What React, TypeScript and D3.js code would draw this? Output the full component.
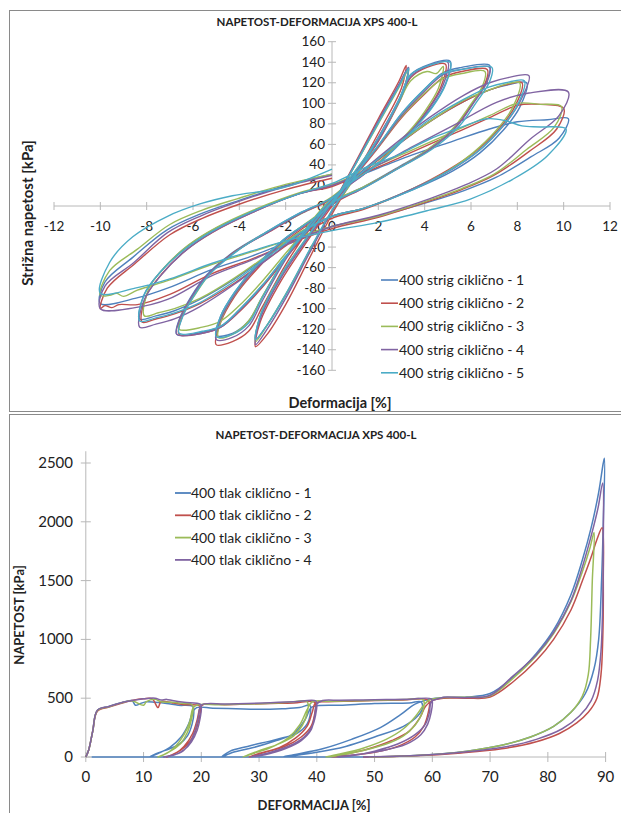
import React from "react";
import * as d3 from "d3";

type Pt = [number, number];

// ---- top chart: shear, cyclic (strain %, kPa) ----
const strigNames = [
  "400 strig ciklično - 1",
  "400 strig ciklično - 2",
  "400 strig ciklično - 3",
  "400 strig ciklično - 4",
  "400 strig ciklično - 5",
];
const strigColors = ["#4F81BD", "#C0504D", "#9BBB59", "#8064A2", "#4BACC6"];

const strig1: Pt[] = [
  [0, 0], [1, 40], [2, 82], [2.9, 118], [3.3, 135],
  [3.1, 113], [2.2, 74], [1, 29], [0, -5], [-1, -45], [-2, -87], [-2.8, -116], [-3.3, -130],
  [-3.1, -108], [-2.2, -68], [-1, -29], [0, 3], [1, 33], [2, 65], [2.9, 104], [3.4, 128], [4.2, 138], [5.1, 141],
  [4.9, 119], [4.3, 96], [3.5, 75], [2.1, 44], [0.6, 19], [0, 7], [-1, -19], [-2, -50], [-3, -88], [-3.6, -112], [-4.3, -124], [-5, -126],
  [-4.8, -107], [-4.2, -84], [-3.5, -64], [-2.1, -33], [-0.6, -9], [0, 3], [1, 31], [2, 59], [3, 90], [4, 114], [4.8, 130], [5.6, 135], [6.8, 137],
  [6.7, 123], [6.1, 101], [5.4, 79], [4.2, 56], [2.8, 37], [1.4, 19], [0, 3], [-1, -22], [-2, -49], [-3, -77], [-4, -101], [-4.8, -117], [-5.6, -123], [-6.7, -125],
  [-6.6, -111], [-6.1, -89], [-5.4, -67], [-4.2, -44], [-2.8, -25], [-1.4, -7], [0, 8], [1.35, 34], [2.8, 59], [4.2, 82], [5.7, 102], [6.8, 113], [7.6, 118], [8.4, 120],
  [8.1, 96], [7.4, 74], [6.4, 52], [5.2, 34], [3.5, 16], [1.4, -2], [0, -10], [-1.35, -26], [-2.8, -49], [-4.2, -71], [-5.7, -91], [-6.8, -102], [-7.6, -107], [-8.3, -110],
  [-8.1, -86], [-7.4, -64], [-6.4, -42], [-5.2, -24], [-3.5, -6], [-1.4, 12], [0, 20], [2, 37], [3.5, 50], [5.2, 63], [6.8, 75], [8, 82], [9.3, 84], [10.2, 85],
  [9.8, 66], [8.6, 48], [7.1, 28], [5.7, 15], [4.2, 4], [2, -10], [0, -20], [-2, -36], [-3.5, -49], [-5.2, -62], [-7.1, -80], [-8.5, -90], [-10, -95],
  [-9.8, -74], [-8.6, -50], [-7.1, -23], [-5.7, -8], [-4.2, 4], [-2, 20], [0, 31],
];

const strig2: Pt[] = [
  [0, 0], [1, 42], [2, 85], [2.9, 122], [3.2, 137],
  [3.0, 115], [2.1, 75], [1, 30], [0, -8], [-1, -52], [-2, -96], [-2.8, -125], [-3.3, -137],
  [-3.1, -113], [-2.2, -73], [-1, -32], [0, 0], [1, 31], [2, 63], [2.9, 101], [3.4, 125], [4.1, 135], [4.9, 138],
  [4.7, 116], [4.1, 93], [3.4, 73], [2.0, 42], [0.6, 18], [0, 5], [-1, -23], [-2, -57], [-3, -98], [-3.6, -122], [-4.3, -132], [-5, -135],
  [-4.8, -113], [-4.2, -88], [-3.5, -68], [-2.1, -36], [-0.6, -11], [0, 1], [1, 29], [2, 57], [3, 86], [4, 109], [4.8, 125], [5.6, 131], [6.7, 133],
  [6.6, 119], [6, 98], [5.3, 76], [4.1, 53], [2.7, 35], [1.3, 17], [0, 1], [-1, -24], [-2, -51], [-3, -79], [-4, -103], [-4.8, -118], [-5.6, -124], [-6.6, -125],
  [-6.5, -110], [-6, -88], [-5.3, -66], [-4.1, -43], [-2.7, -25], [-1.3, -7], [0, 7], [1.35, 33], [2.8, 59], [4.2, 82], [5.7, 102], [6.8, 113], [7.5, 118], [8.2, 120],
  [7.9, 97], [7.2, 75], [6.2, 53], [5, 35], [3.4, 16], [1.4, -3], [0, -12], [-1.35, -29], [-2.8, -52], [-4.2, -75], [-5.7, -95], [-6.8, -105], [-7.6, -110], [-8.2, -113],
  [-8, -87], [-7.3, -65], [-6.3, -43], [-5.1, -25], [-3.4, -6], [-1.4, 12], [0, 19], [2, 38], [3.5, 53], [5.2, 70], [6.8, 86], [8, 98], [9, 99], [10, 95],
  [9.7, 75], [8.5, 53], [7, 30], [5.6, 16], [4.1, 4], [2, -11], [0, -22], [-2, -38], [-3.5, -52], [-5.2, -66], [-7, -86], [-8.4, -96], [-9.2, -96], [-9.5, -99], [-9.8, -97], [-10, -100],
  [-9.7, -80], [-8.5, -56], [-7, -28], [-5.6, -12], [-4.1, 1], [-2, 16], [0, 27],
];

const strig3: Pt[] = [
  [0, 0], [1, 40], [2, 80], [2.9, 116], [3.3, 133],
  [3.1, 112], [2.2, 73], [1, 28], [0, -5], [-1, -45], [-2, -86], [-2.8, -116], [-3.3, -132],
  [-3.1, -107], [-2.2, -67], [-1, -28], [0, 4], [1, 34], [2, 65], [2.9, 101], [3.4, 122], [4.1, 131], [4.5, 129], [4.8, 136],
  [4.6, 115], [4.0, 92], [3.3, 72], [2.0, 42], [0.6, 19], [0, 8], [-1, -18], [-2, -50], [-3, -88], [-3.6, -112], [-4.3, -125], [-4.9, -128],
  [-4.7, -106], [-4.1, -83], [-3.4, -63], [-2, -32], [-0.6, -8], [0, 4], [1, 31], [2, 58], [3, 87], [4, 110], [4.8, 124], [5.6, 129], [6.6, 131],
  [6.5, 117], [5.9, 96], [5.2, 75], [4, 53], [2.7, 35], [1.3, 18], [0, 4], [-1, -20], [-2, -46], [-3, -73], [-4, -97], [-4.8, -112], [-5.6, -118], [-6.6, -120],
  [-6.5, -107], [-5.9, -86], [-5.2, -64], [-4, -42], [-2.7, -24], [-1.3, -7], [0, 9], [1.35, 35], [2.8, 60], [4.2, 82], [5.7, 103], [6.8, 113], [7.4, 118], [8.1, 120],
  [7.8, 96], [7.1, 74], [6.1, 52], [5, 34], [3.4, 16], [1.4, -2], [0, -10], [-1.35, -25], [-2.8, -48], [-4.2, -70], [-5.7, -90], [-6.8, -100], [-7.5, -104], [-8.1, -107],
  [-7.9, -80], [-7.2, -59], [-6.2, -38], [-5, -21], [-3.4, -4], [-1.4, 13], [0, 21], [2, 40], [3.5, 55], [5.2, 72], [6.8, 88], [8, 100], [9, 99], [9.9, 97],
  [9.6, 77], [8.4, 55], [7, 31], [5.6, 17], [4.1, 5], [2, -10], [0, -20], [-2, -34], [-3.5, -45], [-5.2, -57], [-7, -72], [-8.4, -82], [-9, -88], [-9.3, -85], [-9.6, -87], [-10, -87],
  [-9.6, -63], [-8.4, -42], [-7, -18], [-5.6, -4], [-4.1, 7], [-2, 21], [0, 31],
];

const strig4: Pt[] = [
  [0, 0], [1, 41], [2, 83], [2.9, 119], [3.3, 135],
  [3.1, 114], [2.2, 75], [1, 30], [0, -5], [-1, -47], [-2, -90], [-2.8, -120], [-3.3, -135],
  [-3.1, -110], [-2.2, -70], [-1, -30], [0, 2], [1, 32], [2, 64], [2.9, 102], [3.4, 126], [4.2, 137], [5, 140],
  [4.8, 118], [4.2, 95], [3.5, 75], [2.1, 43], [0.6, 18], [0, 6], [-1, -20], [-2, -52], [-3, -92], [-3.6, -117], [-4.3, -128], [-5, -130],
  [-4.8, -110], [-4.2, -86], [-3.5, -66], [-2.1, -34], [-0.6, -10], [0, 2], [1, 30], [2, 58], [3, 88], [4, 112], [4.8, 128], [5.6, 133], [6.8, 135],
  [6.7, 121], [6.1, 100], [5.4, 78], [4.2, 55], [2.8, 36], [1.4, 18], [0, 2], [-1, -23], [-2, -50], [-3, -78], [-4, -102], [-4.8, -118], [-5.6, -124], [-6.7, -125],
  [-6.6, -112], [-6.1, -90], [-5.4, -68], [-4.2, -45], [-2.8, -26], [-1.4, -8], [0, 8], [1.35, 35], [2.8, 62], [4.2, 86], [5.7, 108], [6.8, 120], [7.6, 125], [8.5, 127],
  [8.1, 101], [7.4, 78], [6.4, 55], [5.2, 36], [3.5, 17], [1.4, -2], [0, -10], [-1.35, -27], [-2.8, -52], [-4.2, -76], [-5.7, -98], [-6.8, -110], [-7.6, -115], [-8.3, -118],
  [-8.1, -91], [-7.4, -68], [-6.4, -45], [-5.2, -26], [-3.5, -7], [-1.4, 12], [0, 20], [2, 40], [3.5, 58], [5.2, 78], [7.1, 101], [8.5, 110], [10.2, 111],
  [9.8, 88], [8.55, 65], [7.1, 36], [5.7, 20], [4.2, 7], [2, -9], [0, -20], [-2, -38], [-3.5, -53], [-5.2, -68], [-7.1, -91], [-8.5, -99], [-10, -100],
  [-9.8, -78], [-8.55, -55], [-7.1, -26], [-5.7, -10], [-4.2, 3], [-2, 19], [0, 30],
];

const strig5: Pt[] = [
  [0, 0], [1, 40], [2, 81], [2.9, 117], [3.3, 134],
  [3.1, 113], [2.2, 74], [1, 29], [0, -4], [-1, -44], [-2, -86], [-2.8, -116], [-3.3, -130],
  [-3.1, -107], [-2.2, -67], [-1, -28], [0, 4], [1, 34], [2, 66], [2.9, 104], [3.4, 128], [4.2, 137], [5.1, 140],
  [4.9, 118], [4.3, 95], [3.5, 74], [2.1, 43], [0.6, 19], [0, 7], [-1, -19], [-2, -50], [-3, -89], [-3.6, -114], [-4.3, -125], [-5, -127],
  [-4.8, -107], [-4.2, -84], [-3.5, -64], [-2.1, -33], [-0.6, -9], [0, 3], [1, 31], [2, 59], [3, 90], [4, 114], [4.8, 129], [5.6, 133], [6.9, 135],
  [6.8, 121], [6.2, 100], [5.5, 78], [4.3, 55], [2.9, 37], [1.5, 19], [0, 3], [-1, -22], [-2, -49], [-3, -77], [-4, -101], [-4.8, -117], [-5.6, -122], [-6.6, -124],
  [-6.5, -111], [-6, -89], [-5.3, -67], [-4.1, -44], [-2.8, -25], [-1.4, -7], [0, 8], [1.35, 34], [2.8, 60], [4.2, 84], [5.7, 104], [6.8, 116], [7.5, 120], [8.3, 122],
  [8, 98], [7.3, 76], [6.3, 53], [5.1, 35], [3.5, 16], [1.4, -2], [0, -10], [-1.35, -26], [-2.8, -50], [-4.2, -73], [-5.7, -94], [-6.8, -104], [-7.6, -109], [-8.3, -112],
  [-8.1, -86], [-7.4, -64], [-6.4, -43], [-5.2, -25], [-3.5, -6], [-1.4, 12], [0, 22], [1.5, 38], [2.8, 49], [4.2, 65], [5.5, 76], [6.7, 85], [7.5, 83], [8.2, 78], [9, 77], [10.1, 75],
  [9.3, 49], [7.8, 26], [6, 7], [4.2, -4], [2, -16], [0, -24], [-2, -34], [-3.5, -44], [-5.2, -56], [-7, -71], [-8.5, -80], [-10, -85],
  [-9.6, -55], [-8.6, -30], [-7.1, -10], [-5.7, 2], [-4.3, 10], [-2.1, 18], [0, 36],
];

const strigData = [strig1, strig2, strig3, strig4, strig5];
const topXTicks = [-12, -10, -8, -6, -4, -2, 0, 2, 4, 6, 8, 10, 12];
const topYTicks = [-160, -140, -120, -100, -80, -60, -40, -20, 0, 20, 40, 60, 80, 100, 120, 140, 160];

// ---- bottom chart: compression, cyclic (strain %, kPa) ----
const tlakNames = [
  "400 tlak ciklično - 1",
  "400 tlak ciklično - 2",
  "400 tlak ciklično - 3",
  "400 tlak ciklično - 4",
];
const tlakColors = ["#4F81BD", "#C0504D", "#9BBB59", "#8064A2"];

const tlak1: Pt[] = [
  [0, 0], [0.5, 60], [1.2, 220], [2, 395], [4, 430], [6, 460], [8, 480], [8.6, 440], [9.5, 455], [10.5, 470], [12, 465], [14, 455], [16, 440], [18.5, 430],
  [18.7, 380], [18.4, 280], [17.6, 180], [16.2, 110], [14.5, 70], [12.5, 35], [11, 0],
  [12.5, 30], [14.5, 80], [16.5, 170], [17.8, 280], [18.5, 380], [19.2, 420],
  [22, 415], [26, 410], [30, 405], [34, 410], [37, 420], [38.8, 440],
  [38.9, 380], [38.3, 280], [36.5, 200], [33, 150], [28, 90], [25, 50], [23.5, 0],
  [25.5, 40], [29, 80], [33, 140], [36, 200], [38, 320], [39, 420], [40, 435],
  [44, 440], [50, 455], [56, 460], [58, 470],
  [58.3, 420], [57.5, 350], [55, 260], [50, 170], [45, 90], [40, 40], [34, 0],
  [36, 20], [41, 70], [46, 150], [51, 250], [54.5, 360], [57, 450], [59.5, 490],
  [62, 505], [66, 510], [70, 540],
  [74, 680], [78, 880], [81, 1080], [84, 1380], [86, 1680], [87.5, 1950], [88.8, 2250], [89.6, 2500], [89.8, 2540],
  [89.6, 2000], [89.3, 1500], [88.8, 1000], [88, 750], [86.5, 540], [84, 380], [81, 260], [77, 170], [72, 100], [66, 50], [58, 15], [48, 0],
  [40, 0], [20, 0], [1, 0],
];

const tlak2: Pt[] = [
  [0, 0], [0.5, 60], [1.2, 220], [2, 390], [4, 425], [6, 455], [8, 480], [10, 495], [11.5, 495], [12.5, 420], [13, 470], [14, 470], [15, 460], [17, 445], [19.5, 440],
  [19.9, 420], [19.6, 320], [19, 220], [18, 130], [16.5, 60], [15, 20], [14, 0],
  [15.5, 30], [17, 90], [18.5, 200], [19.3, 320], [19.8, 420], [20.5, 450],
  [24, 445], [28, 450], [32, 455], [36, 460], [39.5, 470],
  [39.8, 440], [39.6, 360], [39, 260], [37.3, 170], [34.5, 90], [31, 40], [28.3, 0],
  [30, 30], [33.5, 80], [36.3, 160], [38.3, 260], [39.2, 380], [39.8, 460],
  [42, 470], [46, 475], [50, 480], [55, 485], [59, 490],
  [59.5, 460], [59.3, 380], [58.5, 260], [57, 170], [54, 90], [50, 40], [45, 10], [42.5, 0],
  [45, 25], [49, 70], [53, 140], [56, 220], [57.8, 330], [58.8, 430], [60, 480],
  [62, 500], [66, 500], [70, 510],
  [74, 640], [78, 820], [81, 1000], [84, 1250], [86, 1500], [87.5, 1700], [88.5, 1850], [89.4, 1950],
  [89.6, 1500], [89.5, 1000], [89.2, 700], [88.5, 500], [87, 380], [85, 290], [82, 200], [78, 130], [72, 70], [65, 35], [57, 10], [48, 0],
];

const tlak3: Pt[] = [
  [0, 0], [0.5, 60], [1.2, 220], [2, 395], [4, 428], [6, 458], [8, 478], [10, 440], [10.5, 470], [12, 490], [13, 470], [15, 465], [17, 455], [18.3, 450],
  [18.6, 420], [18.3, 320], [17.6, 210], [16.5, 120], [15, 60], [13.5, 20], [12.5, 0],
  [14, 30], [15.5, 90], [17, 190], [18, 300], [18.6, 420], [19.5, 445],
  [23, 445], [27, 450], [31, 455], [35, 465], [38.2, 475],
  [38.5, 450], [38.3, 370], [37.5, 270], [36, 180], [33.3, 110], [29.8, 50], [27.2, 0],
  [29, 30], [32, 80], [35, 160], [37, 270], [38.3, 400], [39.2, 470],
  [42, 475], [46, 478], [50, 482], [55, 488], [58.3, 492],
  [58.6, 460], [58.2, 370], [57, 270], [55, 180], [52, 110], [48, 55], [44, 15], [41.5, 0],
  [44, 25], [48, 75], [52, 150], [55, 240], [57, 340], [58.5, 440], [59.5, 485],
  [62, 505], [66, 508], [70, 520],
  [74, 670], [78, 860], [81, 1050], [84, 1320], [86, 1580], [87.3, 1780], [88, 1910],
  [87.7, 1500], [87.4, 1000], [87, 700], [86, 520], [84, 380], [81, 260], [77, 170], [72, 100], [66, 50], [58, 15], [49, 0],
];

const tlak4: Pt[] = [
  [0, 0], [0.5, 60], [1.2, 220], [2, 398], [4, 430], [6, 460], [8, 480], [10, 495], [12, 500], [13, 485], [14, 490], [15, 480], [17, 465], [19.8, 450],
  [20, 420], [19.8, 330], [19.3, 230], [18.3, 130], [17, 60], [15.5, 20], [13.5, 0],
  [15, 15], [16.8, 50], [18, 120], [18.9, 220], [19.5, 340], [20, 440],
  [24, 450], [28, 455], [32, 462], [36, 470], [39.8, 478],
  [40, 450], [39.8, 360], [39.2, 260], [37.8, 170], [35.5, 100], [32, 40], [28.6, 0],
  [31, 20], [34.5, 70], [37.3, 140], [39, 230], [39.6, 340], [40, 450], [41, 480],
  [44, 482], [48, 485], [52, 488], [56, 492], [59.8, 495],
  [60, 470], [59.8, 380], [59.2, 280], [58, 190], [55.5, 110], [51, 50], [46, 15], [43.5, 0],
  [46, 10], [50, 50], [54, 110], [57, 190], [58.8, 280], [59.5, 380], [59.8, 470], [61, 495],
  [62, 508], [66, 505], [70, 525],
  [74, 690], [78, 870], [81, 1060], [84, 1330], [86, 1620], [87.5, 1880], [88.7, 2120], [89.5, 2330],
  [89.6, 1800], [89.5, 1300], [89.2, 900], [88.6, 650], [87.5, 480], [85.5, 350], [82.5, 240], [78, 150], [73, 90], [66, 45], [58, 15], [48, 0],
];

const tlakData = [tlak1, tlak2, tlak3, tlak4];
const botXTicks = [0, 10, 20, 30, 40, 50, 60, 70, 80, 90];
const botYTicks = [0, 500, 1000, 1500, 2000, 2500];

const FONT = "Lato, 'Open Sans', sans-serif";
const AXIS = "#b8b8b8";

export default function App() {
  // top scales
  const xTop = d3.scaleLinear().domain([-12, 12]).range([54, 610]);
  const yTop = d3.scaleLinear().domain([-160, 160]).range([370.3, 41.7]);
  // bottom scales
  const xBot = d3.scaleLinear().domain([0, 90]).range([85.8, 605.6]);
  const yBot = d3.scaleLinear().domain([0, 2500]).range([757, 463]);

  const lineTop = d3
    .line<Pt>()
    .x(d => xTop(d[0]))
    .y(d => yTop(d[1]))
    .curve(d3.curveCatmullRom.alpha(0.5));
  const lineBot = d3
    .line<Pt>()
    .x(d => xBot(d[0]))
    .y(d => yBot(d[1]))
    .curve(d3.curveCatmullRom.alpha(0.5));

  const x0 = xTop(0);
  const y0 = yTop(0);

  return (
    <svg
      width={621}
      height={813}
      style={{ position: "absolute", left: 0, top: 0, background: "#fff" }}
      fontFamily={FONT}
    >
      <rect x={0} y={0} width={621} height={813} fill="#fff" />

      {/* ---------- top chart ---------- */}
      <rect x={9.5} y={10.5} width={640} height={401} fill="none" stroke="#8a8a8a" />
      <text x={317} y={26} textAnchor="middle" fontSize={11.5} fontWeight="bold" fill="#222">
        NAPETOST-DEFORMACIJA  XPS 400-L
      </text>

      {/* axes */}
      <line x1={xTop(-12)} x2={xTop(12)} y1={y0} y2={y0} stroke={AXIS} />
      <line x1={x0} x2={x0} y1={yTop(-160)} y2={yTop(160)} stroke={AXIS} />
      {topXTicks.map(t => (
        <g key={"tx" + t}>
          <line x1={xTop(t)} x2={xTop(t)} y1={y0 - 4} y2={y0 + 4} stroke={AXIS} />
          <text x={xTop(t)} y={231} textAnchor="middle" fontSize={13.5} fill="#222">
            {t}
          </text>
        </g>
      ))}
      {topYTicks.map(t => (
        <g key={"ty" + t}>
          <line x1={x0 - 4} x2={x0 + 4} y1={yTop(t)} y2={yTop(t)} stroke={AXIS} />
          <text x={x0 - 7} y={yTop(t) + 4.5} textAnchor="end" fontSize={13.5} fill="#222">
            {t}
          </text>
        </g>
      ))}

      {strigData.map((d, i) => (
        <path key={"s" + i} d={lineTop(d) || ""} fill="none" stroke={strigColors[i]} strokeWidth={1.4} strokeLinejoin="round" />
      ))}

      {/* legend */}
      {strigNames.map((n, i) => {
        const ly = 280 + i * 23.2;
        return (
          <g key={"ls" + i}>
            <line x1={381} x2={398} y1={ly} y2={ly} stroke={strigColors[i]} strokeWidth={1.6} />
            <text x={399} y={ly + 5} fontSize={14} fill="#222">
              {n}
            </text>
          </g>
        );
      })}

      <text
        transform="translate(33,213) rotate(-90)"
        textAnchor="middle"
        fontSize={15}
        fontWeight="bold"
        fill="#222"
      >
        Strižna napetost [kPa]
      </text>
      <text x={340} y={408} textAnchor="middle" fontSize={14.5} fontWeight="bold" fill="#222">
        Deformacija [%]
      </text>

      {/* ---------- bottom chart ---------- */}
      <rect x={9.5} y={414.5} width={640} height={420} fill="none" stroke="#8a8a8a" />
      <text x={316} y={439} textAnchor="middle" fontSize={11.5} fontWeight="bold" fill="#222">
        NAPETOST-DEFORMACIJA XPS 400-L
      </text>

      <line x1={xBot(0)} x2={xBot(90)} y1={yBot(0)} y2={yBot(0)} stroke={AXIS} />
      <line x1={xBot(0)} x2={xBot(0)} y1={yBot(0)} y2={yBot(2600)} stroke={AXIS} />
      {botXTicks.map(t => (
        <g key={"bx" + t}>
          <line x1={xBot(t)} x2={xBot(t)} y1={yBot(0) - 5} y2={yBot(0) + 5} stroke={AXIS} />
          <text x={xBot(t)} y={782} textAnchor="middle" fontSize={15} fill="#222">
            {t}
          </text>
        </g>
      ))}
      {botYTicks.map(t => (
        <g key={"by" + t}>
          <line x1={xBot(0) - 5} x2={xBot(0) + 5} y1={yBot(t)} y2={yBot(t)} stroke={AXIS} />
          <text x={73} y={yBot(t) + 5} textAnchor="end" fontSize={15} fill="#222">
            {t}
          </text>
        </g>
      ))}

      {tlakData.map((d, i) => (
        <path key={"t" + i} d={lineBot(d) || ""} fill="none" stroke={tlakColors[i]} strokeWidth={1.5} strokeLinejoin="round" />
      ))}

      {tlakNames.map((n, i) => {
        const ly = 493 + i * 22.3;
        return (
          <g key={"lt" + i}>
            <line x1={175} x2={191} y1={ly} y2={ly} stroke={tlakColors[i]} strokeWidth={1.8} />
            <text x={191} y={ly + 5} fontSize={14} fill="#222">
              {n}
            </text>
          </g>
        );
      })}

      <text
        transform="translate(24,615) rotate(-90)"
        textAnchor="middle"
        fontSize={13}
        fontWeight="bold"
        fill="#222"
      >
        NAPETOST [kPa]
      </text>
      <text x={314} y={810} textAnchor="middle" fontSize={13} fontWeight="bold" fill="#222">
        DEFORMACIJA [%]
      </text>
    </svg>
  );
}
